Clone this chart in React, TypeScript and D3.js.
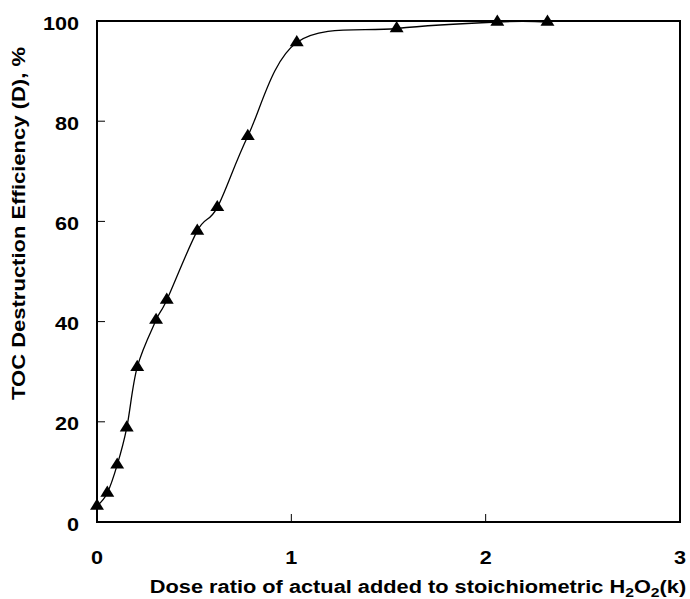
import React from "react";
import * as d3 from "d3";

// Dose ratio k (actual / stoichiometric H2O2) and TOC destruction efficiency D (%)
const doseRatio = [0, 0.053, 0.104, 0.153, 0.207, 0.304, 0.359, 0.516, 0.619, 0.776, 1.028, 1.542, 2.06, 2.318];
const tocEfficiency = [3.2, 5.8, 11.4, 18.8, 30.9, 40.3, 44.3, 58.1, 62.8, 77.0, 95.7, 98.5, 99.8, 99.8];
const xTicks = [0, 1, 2, 3];
const yTicks = [0, 20, 40, 60, 80, 100];

const W = 690;
const H = 599;
const M = { left: 97, right: 680, top: 21, bottom: 522 };
const FONT = "'Liberation Sans', Arial, sans-serif";
const SX = 1.2; // horizontal widening of the labels

export default function App() {
  const x = d3.scaleLinear().domain([0, 3]).range([M.left, M.right]);
  const y = d3.scaleLinear().domain([0, 100]).range([M.bottom, M.top]);
  const pts = doseRatio.map((d, i) => [d, tocEfficiency[i]] as [number, number]);
  const line = d3
    .line<[number, number]>()
    .x((d) => x(d[0]))
    .y((d) => y(d[1]))
    .curve(d3.curveCatmullRom.alpha(0));
  const tri = d3.symbol(d3.symbolTriangle, 72)();

  return (
    <svg
      width={W}
      height={H}
      style={{ position: "absolute", left: 0, top: 0, background: "#fff" }}
      fontFamily={FONT}
    >
      <path d={line(pts) ?? ""} fill="none" stroke="#000" strokeWidth={1.3} />
      {pts.map((p, i) => (
        <path
          key={i}
          d={tri ?? ""}
          transform={`translate(${x(p[0])},${y(p[1])}) scale(1.08,1)`}
          fill="#000"
        />
      ))}
      {/* frame */}
      <rect
        x={M.left}
        y={M.top}
        width={M.right - M.left}
        height={M.bottom - M.top}
        fill="none"
        stroke="#000"
        strokeWidth={2}
      />
      {/* ticks */}
      {yTicks.map((t) => (
        <g key={`y${t}`}>
          <line x1={M.left} x2={M.left + 8} y1={y(t)} y2={y(t)} stroke="#000" strokeWidth={1} />
          <g transform={`translate(79,${y(t) + 8.5}) scale(${SX},1)`}>
            <text textAnchor="end" fontSize={18} fontWeight="bold">
              {t}
            </text>
          </g>
        </g>
      ))}
      {xTicks.map((t) => (
        <g key={`x${t}`}>
          <line x1={x(t)} x2={x(t)} y1={M.bottom} y2={M.bottom - 8} stroke="#000" strokeWidth={1} />
          <g transform={`translate(${x(t)},564) scale(${SX},1)`}>
            <text textAnchor="middle" fontSize={18} fontWeight="bold">
              {t}
            </text>
          </g>
        </g>
      ))}
      <g transform={`translate(418,592.5) scale(1.21,1)`}>
        <text textAnchor="middle" fontSize={18} fontWeight="bold">
          Dose ratio of actual added to stoichiometric H
          <tspan fontSize={13} dy={4}>2</tspan>
          <tspan dy={-4}>O</tspan>
          <tspan fontSize={13} dy={4}>2</tspan>
          <tspan dy={-4}>(k)</tspan>
        </text>
      </g>
      <text
        transform={`translate(25,223.5) rotate(-90)`}
        textAnchor="middle"
        fontSize={18}
        fontWeight="bold"
        textLength={353}
        lengthAdjust="spacingAndGlyphs"
      >
        TOC Destruction Efficiency (D), %
      </text>
    </svg>
  );
}
